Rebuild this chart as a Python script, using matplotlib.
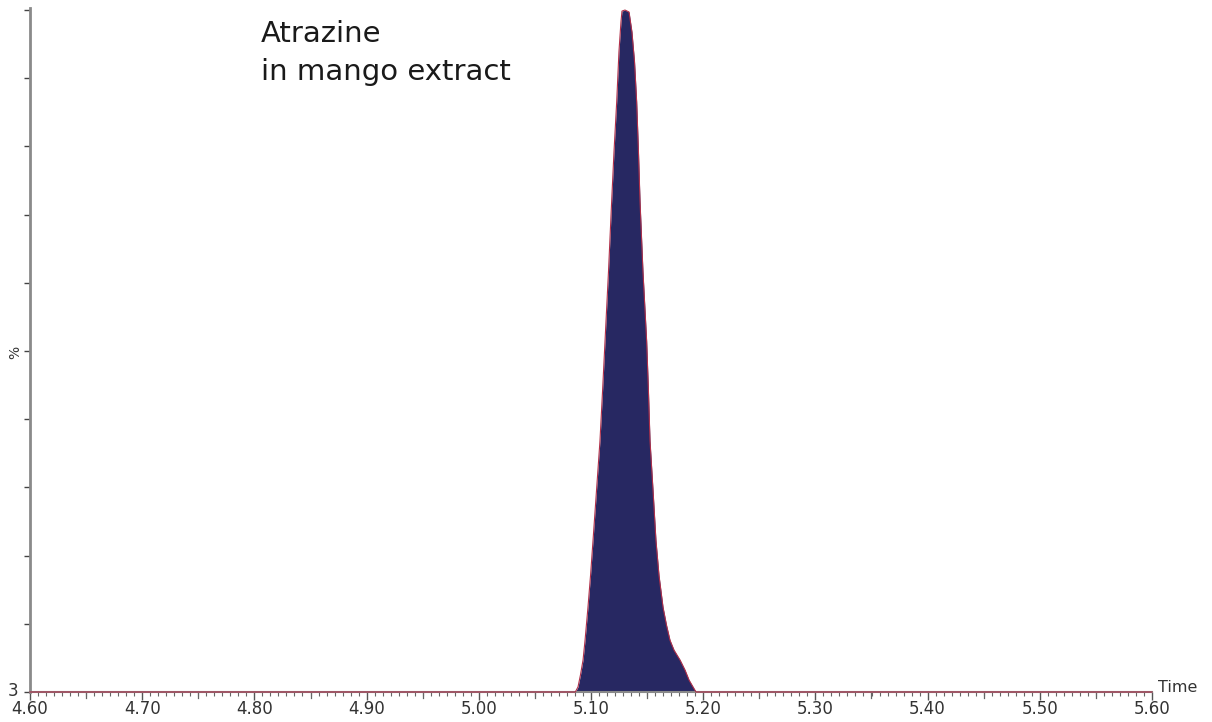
import matplotlib
matplotlib.use("Agg")
import matplotlib.pyplot as plt
from matplotlib.ticker import MultipleLocator, FixedLocator
import numpy as np

# Data (time in min, relative intensity in %)
time_min = [4.60, 5.0860, 5.0884, 5.0906, 5.0929, 5.0947, 5.0973, 5.0996, 5.1018,
            5.1049, 5.1080, 5.1103, 5.1125, 5.1156, 5.1184, 5.1205, 5.1229, 5.1249,
            5.1267, 5.1276, 5.1303, 5.1339, 5.1365, 5.1388, 5.1407, 5.1423, 5.1437,
            5.1463, 5.1496, 5.1512, 5.1526, 5.1553, 5.1579, 5.1606, 5.1642, 5.1673,
            5.1704, 5.1740, 5.1794, 5.1838, 5.1874, 5.1910, 5.1936, 5.60]
intensity_pct = [0.0, 0.0, 0.73, 2.49, 4.68, 7.60, 12.43, 17.11, 22.22,
                 29.53, 36.84, 44.15, 51.46, 61.70, 71.93, 79.24, 86.55, 93.86,
                 98.25, 99.85, 100.0, 99.71, 96.78, 92.40, 86.55, 79.24, 71.93,
                 61.70, 51.46, 44.15, 36.84, 29.53, 22.22, 17.11, 12.43, 9.80,
                 7.60, 6.14, 4.68, 3.22, 1.75, 0.73, 0.0, 0.0]

x_ticks = [4.60, 4.70, 4.80, 4.90, 5.00, 5.10, 5.20, 5.30, 5.40, 5.50, 5.60]
x_tick_labels = ["4.60", "4.70", "4.80", "4.90", "5.00", "5.10", "5.20",
                 "5.30", "5.40", "5.50", "5.60"]
y_ticks = [0, 10, 20, 30, 40, 50, 60, 70, 80, 90, 100]
title_lines = ["Atrazine", "in mango extract"]

W, H = 1212, 722
fig = plt.figure(figsize=(W / 100, H / 100), dpi=100)
fig.patch.set_facecolor("white")

left, right, bottom, top = 30 / W, 1152 / W, 1 - 692 / H, 1 - 8 / H
ax = fig.add_axes([left, bottom, right - left, top - bottom])

t = np.array(time_min)
y = np.array(intensity_pct)
ax.fill_between(t, 0, y, color="#272862", linewidth=0, zorder=2)
ax.plot(t, y, color="#b0304a", linewidth=0.8, zorder=3, clip_on=False)

ax.set_xlim(4.60, 5.60)
ax.set_ylim(0, 100.3)

for s in ["top", "right"]:
    ax.spines[s].set_visible(False)
ax.spines["left"].set_color("#8a8a8a")
ax.spines["left"].set_linewidth(2)
ax.spines["bottom"].set_color("#8a8a8a")
ax.spines["bottom"].set_linewidth(1.5)

ax.xaxis.set_major_locator(FixedLocator(x_ticks))
ax.set_xticklabels(x_tick_labels)
ax.xaxis.set_minor_locator(MultipleLocator(0.1 / 14))
ax.tick_params(axis="x", which="major", length=6, width=1, color="#555555",
               labelsize=12, pad=0, labelcolor="#333333")
ax.tick_params(axis="x", which="minor", length=3, width=0.8, color="#666666")

ax.yaxis.set_major_locator(FixedLocator(y_ticks))
ax.set_yticklabels([])
ax.tick_params(axis="y", which="major", length=4, width=1, color="#444444")

# medium ticks at half intervals
for xm in np.arange(4.65, 5.60, 0.1):
    ax.plot([xm, xm], [0, -0.9], color="#666666", lw=0.9, clip_on=False)

fig.text(13 / W, 1 - 691 / H, "3", fontsize=12, color="#333333",
         ha="center", va="center")
fig.text(15 / W, 1 - 352 / H, "%", fontsize=10, color="#333333",
         rotation=90, ha="center", va="center")
fig.text(1158 / W, 1 - 688 / H, "Time", fontsize=11.5, color="#333333",
         ha="left", va="center")

fig.text(261 / W, 1 - 42 / H, title_lines[0], fontsize=21, color="#1a1a1a",
         ha="left", va="baseline")
fig.text(261 / W, 1 - 80 / H, title_lines[1], fontsize=21, color="#1a1a1a",
         ha="left", va="baseline")

fig.savefig("out.png", dpi=100, facecolor="white")
